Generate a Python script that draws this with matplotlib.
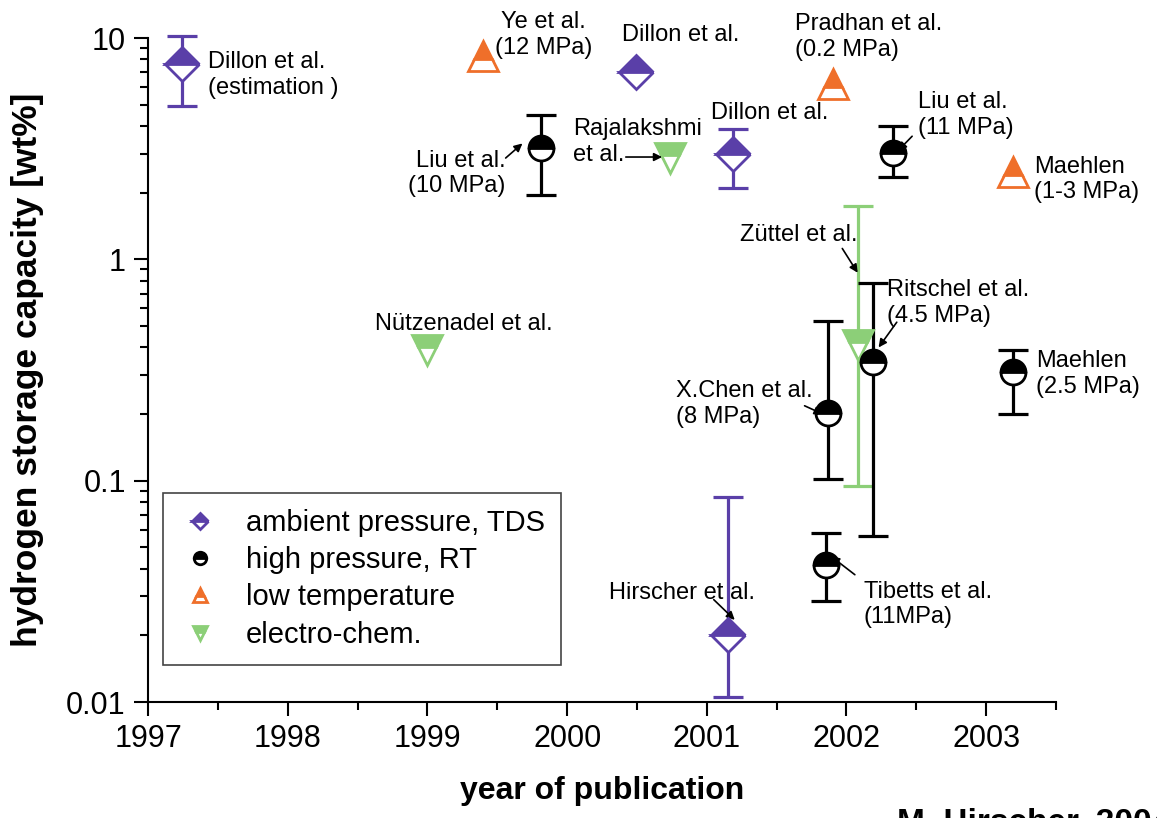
import numpy as np
import matplotlib
matplotlib.use("Agg")
import matplotlib.pyplot as plt
from matplotlib.ticker import FixedLocator, LogLocator, NullFormatter

plt.rcParams['font.family'] = ['Liberation Sans', 'DejaVu Sans']

# ambient pressure, TDS
tds_x = [1997.24, 2000.49, 2001.19, 2001.15]
tds_y = [7.6, 7.0, 3.0, 0.020]
tds_lo = [4.93, np.nan, 2.1, 0.0105]
tds_hi = [10.2, np.nan, 3.9, 0.0845]

# high pressure, room temperature
hp_x = [1999.81, 2002.33, 2001.87, 2002.19, 2001.85, 2003.19]
hp_y = [3.18, 3.02, 0.202, 0.344, 0.0417, 0.31]
hp_lo = [1.95, 2.35, 0.102, 0.056, 0.0286, 0.20]
hp_hi = [4.5, 4.0, 0.527, 0.78, 0.058, 0.39]

# low temperature
lt_x = [1999.40, 2001.90, 2003.19]
lt_y = [8.3, 6.2, 2.48]

# electro-chemical
ec_x = [1999.0, 2000.74, 2002.08]
ec_y = [0.39, 2.87, 0.41]
ec_lo = [np.nan, np.nan, 0.095]
ec_hi = [np.nan, np.nan, 1.74]

purple = '#5a3fa8'
orange = '#ef6f2a'
green = '#8ccf78'

fig = plt.figure(figsize=(11.57, 8.18), dpi=100)
ax = fig.add_axes([0.128, 0.1418, 0.7847, 0.8117])


def bars(x, y, lo, hi, color):
    x, y, lo, hi = map(np.asarray, (x, y, lo, hi))
    ok = ~np.isnan(lo)
    err = np.vstack([y[ok] - lo[ok], hi[ok] - y[ok]])
    eb = ax.errorbar(x[ok], y[ok], yerr=err, fmt='none', ecolor=color,
                     elinewidth=2.3, capsize=11, capthick=2.3, zorder=2)
    for art in eb.lines[1] + eb.lines[2]:
        art.set_clip_on(False)


bars(ec_x, ec_y, ec_lo, ec_hi, green)
bars(tds_x, tds_y, tds_lo, tds_hi, purple)
bars(hp_x, hp_y, hp_lo, hp_hi, 'black')

ax.plot(tds_x, tds_y, ls='none', marker='D', ms=17, mfc=purple, mfcalt='white',
        mec=purple, mew=2, fillstyle='top', zorder=4, clip_on=False,
        label='ambient pressure, TDS')
ax.plot(hp_x, hp_y, ls='none', marker='o', ms=18, mfc='black', mfcalt='white',
        mec='black', mew=2, fillstyle='top', zorder=4, label='high pressure, RT')
ax.plot(lt_x, lt_y, ls='none', marker='^', ms=21, mfc=orange, mfcalt='white',
        mec=orange, mew=2, fillstyle='top', zorder=4, label='low temperature')
ax.plot(ec_x, ec_y, ls='none', marker='v', ms=21, mfc=green, mfcalt='white',
        mec=green, mew=2, fillstyle='top', zorder=3, label='electro-chem.')

ax.set_yscale('log')
ax.set_xlim(1997, 2003.5)
ax.set_ylim(0.01, 10)
ax.set_xticks(range(1997, 2004))
ax.xaxis.set_minor_locator(FixedLocator(np.arange(1997.5, 2003.6, 1.0)))
ax.yaxis.set_minor_locator(LogLocator(base=10, subs=np.arange(2, 10)))
ax.yaxis.set_minor_formatter(NullFormatter())
ax.set_yticks([0.01, 0.1, 1, 10])
ax.set_yticklabels(['0.01', '0.1', '1', '10'])

for s in ('top', 'right'):
    ax.spines[s].set_visible(False)
for s in ('left', 'bottom'):
    ax.spines[s].set_linewidth(1.5)
ax.tick_params(which='major', direction='out', length=10, width=1.5,
               labelsize=22, pad=6)
ax.tick_params(which='minor', direction='out', length=6, width=1.5)

ax.set_xlabel('year of publication', fontsize=23, fontweight='bold', labelpad=16)
ax.set_ylabel('hydrogen storage capacity [wt%]', fontsize=25.5, fontweight='bold',
              family=['Liberation Sans Narrow', 'Liberation Sans'], labelpad=16)

fs = 17
arrow = dict(arrowstyle='-|>', color='black', lw=1.2, mutation_scale=12,
             shrinkA=0, shrinkB=0)

ax.text(1997.43, 6.81, 'Dillon et al.\n(estimation )', fontsize=fs, va='center',
        linespacing=1.2)
ax.text(1999.83, 10.3, 'Ye et al.\n(12 MPa)', fontsize=fs, va='center', ha='center',
        linespacing=1.2, clip_on=False)
ax.text(2000.81, 10.3, 'Dillon et al.', fontsize=fs, va='center', ha='center')
ax.text(2001.63, 10.1, 'Pradhan et al.\n(0.2 MPa)', fontsize=fs, va='center',
        linespacing=1.2)
ax.text(2001.45, 4.58, 'Dillon et al.', fontsize=fs, va='center', ha='center')
ax.text(2000.04, 3.39, 'Rajalakshmi\net al.', fontsize=fs, va='center',
        linespacing=1.2)
ax.text(1999.56, 2.45, 'Liu et al.\n(10 MPa)', fontsize=fs, va='center', ha='right',
        multialignment='right', linespacing=1.2)
ax.text(2002.51, 4.49, 'Liu et al.\n(11 MPa)', fontsize=fs, va='center',
        linespacing=1.2)
ax.text(2003.34, 2.29, 'Maehlen\n(1-3 MPa)', fontsize=fs, va='center',
        linespacing=1.2)
ax.text(2001.66, 1.29, 'Züttel et al.', fontsize=fs, va='center', ha='center')
ax.text(2002.29, 0.635, 'Ritschel et al.\n(4.5 MPa)', fontsize=fs, va='center',
        linespacing=1.2)
ax.text(1999.26, 0.51, 'Nützenadel et al.', fontsize=fs, va='center', ha='center')
ax.text(2000.78, 0.222, 'X.Chen et al.\n(8 MPa)', fontsize=fs, va='center',
        linespacing=1.2)
ax.text(2003.36, 0.303, 'Maehlen\n(2.5 MPa)', fontsize=fs, va='center',
        linespacing=1.2)
ax.text(2000.30, 0.0311, 'Hirscher et al.', fontsize=fs, va='center')
ax.text(2002.125, 0.0275, 'Tibetts et al.\n(11MPa)', fontsize=fs, va='center',
        linespacing=1.2)

# small pointer arrows from labels to their points
pointers = [
    ((1999.68, 3.34), (1999.56, 2.87)),
    ((2000.68, 2.9), (2000.42, 2.9)),
    ((2002.37, 3.1), (2002.47, 3.6)),
    ((2002.08, 0.87), (2001.97, 1.12)),
    ((2002.23, 0.40), (2002.36, 0.52)),
    ((2001.83, 0.20), (2001.70, 0.218)),
    ((2001.20, 0.0235), (2001.05, 0.029)),
    ((2001.89, 0.0455), (2002.06, 0.0376)),
]
for tip, tail in pointers:
    ax.annotate('', xy=tip, xytext=tail, arrowprops=arrow)

leg = ax.legend(loc='lower left', bbox_to_anchor=(0.0165, 0.056), borderaxespad=0,
                fontsize=21, markerscale=0.5, handlelength=1.4, handletextpad=0.9,
                borderpad=0.55, labelspacing=0.32, fancybox=False,
                edgecolor='#444444', framealpha=1)
leg.get_frame().set_linewidth(1.2)

fig.text(0.775, 0.012, 'M. Hirscher, 2004', fontsize=24, fontweight='bold',
         va='top')

fig.savefig('out.png', dpi=100)
